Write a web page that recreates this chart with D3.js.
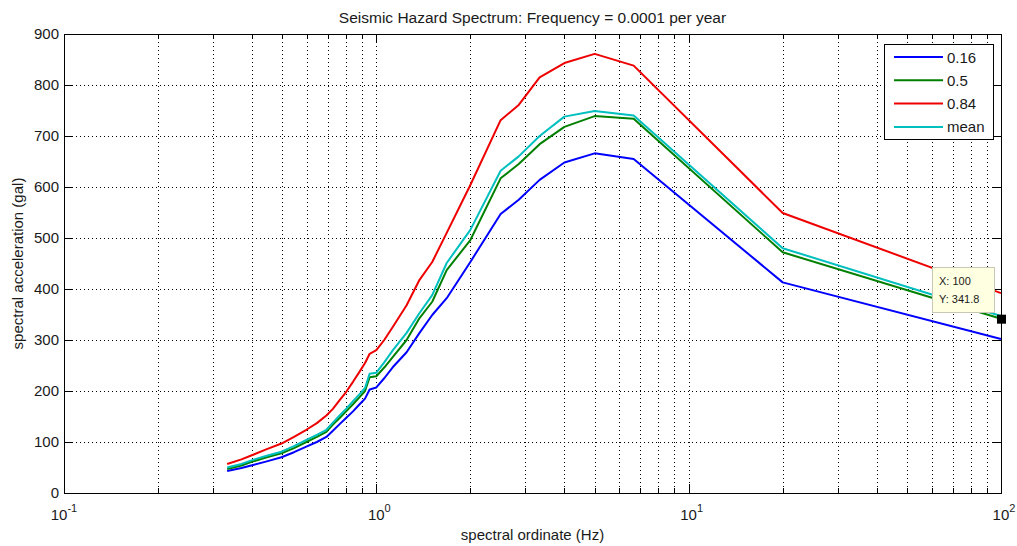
<!DOCTYPE html>
<html>
<head>
<meta charset="utf-8">
<script src="https://cdn.jsdelivr.net/npm/d3@7"></script>
<style>
  body { margin: 0; background: #fff; }
  svg { display: block; font-family: "Liberation Sans", Arial, sans-serif; }
</style>
</head>
<body>
<svg id="chart" width="1017" height="546"></svg>
<script>
// spectral ordinate (Hz)
const freqs = [0.333, 0.37, 0.403, 0.446, 0.497, 0.545, 0.597, 0.645, 0.692, 0.726, 0.763, 0.80, 0.842, 0.884, 0.92, 0.952, 1.0, 1.06, 1.13, 1.25, 1.375, 1.51, 1.68, 2.0, 2.5, 2.857, 3.333, 4, 5, 6.667, 20, 100];

// spectral acceleration (gal) per fractile
const p16 = [43, 49, 55, 62, 70, 80, 91, 100, 110, 122, 135, 147, 160, 174, 185, 203, 207, 225, 247, 276, 314, 349, 382, 453, 547, 575, 614, 648, 666, 655, 413, 302];
const p50 = [47, 54, 62, 70, 78, 88, 100, 110, 120, 134, 147, 160, 174, 188, 200, 227, 229, 246, 267, 300, 343, 375, 437, 496, 617, 645, 684, 718, 739, 734, 472, 341.8];
const p84 = [57, 66, 75, 86, 97, 110, 124, 137, 152, 165, 182, 198, 218, 238, 255, 273, 280, 300, 326, 368, 418, 453, 510, 604, 731, 761, 815, 843, 861, 838, 549, 392];
const meanVals = [50, 57, 65, 73, 81, 92, 104, 114, 124, 138, 152, 165, 180, 194, 206, 234, 236, 256, 280, 314, 353, 388, 451, 516, 632, 660, 700, 738, 749, 740, 480, 347];

const seriesNames = ["0.16", "0.5", "0.84", "mean"];
const seriesColors = ["#0000ff", "#008000", "#ee0000", "#00bfbf"];
const seriesVals = [p16, p50, p84, meanVals];

const yTicks = [0, 100, 200, 300, 400, 500, 600, 700, 800, 900];
const xDecades = [-1, 0, 1, 2];

const tipPoint = {x: 100, y: 341.8};

let svg = d3.select("#chart");
let plotL = 64, plotR = 1001, plotT = 34, plotB = 493;

let x = d3.scaleLog().domain([0.1, 100]).range([plotL, plotR]);
let y = d3.scaleLinear().domain([0, 900]).range([plotB, plotT]);

// minor + major log positions
let xGrid = [];
for (let e = -1; e < 2; e++) {
    for (let m = 1; m < 10; m++) {
        xGrid.push(m * Math.pow(10, e));
    }
}
xGrid.push(100);

// grid
let grid = svg.append("g").attr("stroke", "#000").attr("stroke-dasharray", "1,3").attr("stroke-width", 1);
grid.selectAll("line.gx").data(xGrid.slice(1, -1)).enter().append("line")
    .attr("x1", d => Math.round(x(d)) + 0.5).attr("x2", d => Math.round(x(d)) + 0.5)
    .attr("y1", plotT).attr("y2", plotB);
grid.selectAll("line.gy").data(yTicks.slice(1, -1)).enter().append("line")
    .attr("x1", plotL).attr("x2", plotR)
    .attr("y1", d => Math.round(y(d)) + 0.5).attr("y2", d => Math.round(y(d)) + 0.5);

// ticks on all four sides
let ticks = svg.append("g").attr("stroke", "#000").attr("stroke-width", 1);
xGrid.forEach(function(d) {
    let major = Math.abs(Math.log10(d) - Math.round(Math.log10(d))) < 1e-9;
    let len = major ? 9 : 5;
    let px = Math.round(x(d)) + 0.5;
    ticks.append("line").attr("x1", px).attr("x2", px).attr("y1", plotB).attr("y2", plotB - len);
    ticks.append("line").attr("x1", px).attr("x2", px).attr("y1", plotT).attr("y2", plotT + len);
});
yTicks.forEach(function(d) {
    let py = Math.round(y(d)) + 0.5;
    ticks.append("line").attr("x1", plotL).attr("x2", plotL + 9).attr("y1", py).attr("y2", py);
    ticks.append("line").attr("x1", plotR).attr("x2", plotR - 9).attr("y1", py).attr("y2", py);
});

// box
svg.append("rect").attr("x", plotL + 0.5).attr("y", plotT + 0.5)
    .attr("width", plotR - plotL).attr("height", plotB - plotT)
    .attr("fill", "none").attr("stroke", "#000").attr("stroke-width", 1);

// y tick labels
svg.append("g").selectAll("text").data(yTicks).enter().append("text")
    .attr("x", plotL - 5).attr("y", d => y(d) + 5)
    .attr("text-anchor", "end").attr("font-size", 15).attr("fill", "#1a1a1a")
    .text(d => d);

// x tick labels 10^e
let xl = svg.append("g").attr("fill", "#1a1a1a");
xDecades.forEach(function(e) {
    let t = xl.append("text").attr("x", x(Math.pow(10, e)) + (e < 0 ? 0 : 3)).attr("y", 520)
        .attr("text-anchor", "middle").attr("font-size", 15);
    t.append("tspan").text("10");
    t.append("tspan").attr("font-size", 11).attr("dy", -8).text(e);
});

// axis titles
svg.append("text").attr("x", (plotL + plotR) / 2).attr("y", 23)
    .attr("text-anchor", "middle").attr("font-size", 15.5).attr("fill", "#1a1a1a")
    .text("Seismic Hazard Spectrum: Frequency = 0.0001 per year");
svg.append("text").attr("x", (plotL + plotR) / 2).attr("y", 540)
    .attr("text-anchor", "middle").attr("font-size", 15).attr("fill", "#1a1a1a")
    .text("spectral ordinate (Hz)");
svg.append("text").attr("transform", "translate(23," + ((plotT + plotB) / 2) + ") rotate(-90)")
    .attr("text-anchor", "middle").attr("font-size", 15).attr("fill", "#1a1a1a")
    .text("spectral acceleration (gal)");

// curves
let line = d3.line().x((d, i) => x(freqs[i])).y(d => y(d));
let drawOrder = [0, 1, 2, 3];
let curves = svg.append("g").attr("fill", "none").attr("stroke-linejoin", "round");
drawOrder.forEach(function(k) {
    curves.append("path").datum(seriesVals[k])
        .attr("d", line)
        .attr("stroke", seriesColors[k])
        .attr("stroke-width", 2);
});

// legend
let lg = svg.append("g");
lg.append("rect").attr("x", 884.5).attr("y", 44.5).attr("width", 109).attr("height", 95)
    .attr("fill", "#fff").attr("stroke", "#000");
seriesNames.forEach(function(name, i) {
    let ly = 57 + i * 23.3;
    lg.append("line").attr("x1", 894).attr("x2", 943).attr("y1", ly).attr("y2", ly)
        .attr("stroke", seriesColors[i]).attr("stroke-width", 2);
    lg.append("text").attr("x", 947).attr("y", ly + 5.5).attr("font-size", 15).attr("fill", "#1a1a1a").text(name);
});

// data tip
let tip = svg.append("g");
tip.append("rect").attr("x", 932.5).attr("y", 267.5).attr("width", 62).attr("height", 45)
    .attr("fill", "#ffffe1").attr("stroke", "#c8c8b4");
tip.append("text").attr("x", 939).attr("y", 285).attr("font-size", 11).attr("fill", "#1a1a1a").text("X: " + tipPoint.x);
tip.append("text").attr("x", 939).attr("y", 303).attr("font-size", 11).attr("fill", "#1a1a1a").text("Y: " + tipPoint.y);
tip.append("rect").attr("x", x(tipPoint.x) - 4).attr("y", y(tipPoint.y) - 4)
    .attr("width", 9).attr("height", 9).attr("fill", "#000");
</script>
</body>
</html>
